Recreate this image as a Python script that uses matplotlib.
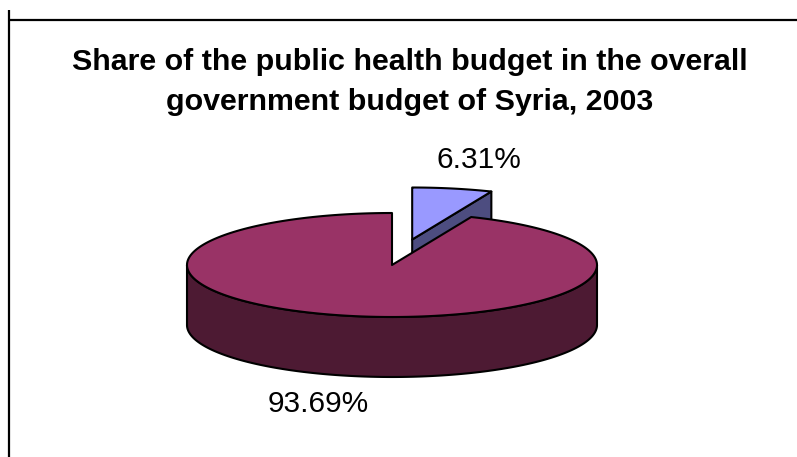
import numpy as np
import matplotlib
matplotlib.use("Agg")
import matplotlib.pyplot as plt
from matplotlib.patches import Polygon

plt.rcParams['font.family'] = ['Liberation Sans', 'DejaVu Sans']

# Budget shares (percent)
labels = ["Public health", "Rest of government budget"]
shares = [6.31, 93.69]
explode = [0.5, 0.0]
top_colors = ["#9999FF", "#993366"]
side_colors = ["#4D4D80", "#4D1A33"]

title = "Share of the public health budget in the overall\ngovernment budget of Syria, 2003"

# pie geometry in pixel units
cx, cy = 392, 265
rx, ry = 205, 52
depth = 60

fig = plt.figure(figsize=(7.97, 4.57), dpi=100)
ax = fig.add_axes([0, 0, 1, 1])
ax.set_xlim(0, 797)
ax.set_ylim(457, 0)
ax.axis("off")


def rim(theta, ox=0.0, oy=0.0, dz=0.0):
    t = np.radians(theta)
    return np.column_stack([ox + cx + rx * np.cos(t), oy + cy - ry * np.sin(t) + dz])


# slice angles: start at 12 o'clock, go clockwise
angles = []
start = 90.0
for s in shares:
    end = start - 360.0 * s / 100.0
    angles.append((start, end))
    start = end

edge_kw = dict(edgecolor="black", linewidth=1.5, joinstyle="round")

# small exploded slice sits behind, so draw it first
for i in [0, 1]:
    a0, a1 = angles[i]
    mid = np.radians((a0 + a1) / 2)
    ox = explode[i] * rx * np.cos(mid)
    oy = -explode[i] * ry * np.sin(mid)
    centre = np.array([cx + ox, cy + oy])

    if i == 0:
        # radial cut face at the clockwise end faces the viewer
        r = rim([a1], ox, oy)[0]
        face = np.array([centre, r, r + [0, depth], centre + [0, depth]])
        ax.add_patch(Polygon(face, closed=True, facecolor=side_colors[i], **edge_kw))
    else:
        # front outer wall, 180..360 degrees
        th = np.linspace(180, 360, 200)
        wall = np.vstack([rim(th, ox, oy), rim(th[::-1], ox, oy, depth)])
        ax.add_patch(Polygon(wall, closed=True, facecolor=side_colors[i], **edge_kw))

    # top face
    th = np.linspace(a0, a1, 400)
    top = np.vstack([centre, rim(th, ox, oy)])
    ax.add_patch(Polygon(top, closed=True, facecolor=top_colors[i], **edge_kw))

# data labels
ax.text(479, 160, f"{shares[0]:.2f}%", fontsize=21.5, ha="center", va="center")
ax.text(318, 404, f"{shares[1]:.2f}%", fontsize=21.5, ha="center", va="center")

ax.text(410, 82, title, fontsize=21.9, fontweight="bold", ha="center",
        va="center", linespacing=1.56)

# chart area border (top and left edges)
ax.plot([9, 797], [20, 20], color="black", linewidth=1.6, solid_capstyle="butt")
ax.plot([9, 9], [10, 457], color="black", linewidth=1.6, solid_capstyle="butt")

fig.savefig("out.png", dpi=100)
